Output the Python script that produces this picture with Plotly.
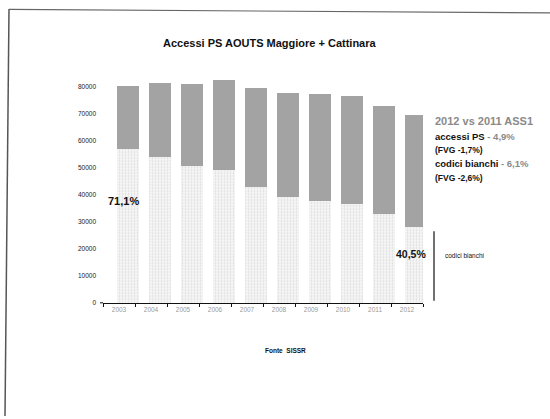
import plotly.graph_objects as go

# ---- data ----
years = ["2003", "2004", "2005", "2006", "2007", "2008", "2009", "2010", "2011", "2012"]
accessi_totali = [80000, 81200, 81000, 82300, 79400, 77700, 77100, 76300, 72800, 69400]
codici_bianchi = [57000, 53800, 50400, 49100, 42700, 39000, 37500, 36500, 32800, 28000]
altri_codici = [t - b for t, b in zip(accessi_totali, codici_bianchi)]
y_ticks = [0, 10000, 20000, 30000, 40000, 50000, 60000, 70000, 80000]

W, H = 550, 419
FONT = "Arial, Liberation Sans, sans-serif"


def px(x):
    return x / W


def py(y):
    return 1 - y / H


BAR_W = 0.69
BAR_OFF = -BAR_W / 2 + 0.28

fig = go.Figure()
fig.add_trace(go.Bar(
    x=years, y=codici_bianchi, name="codici bianchi",
    marker=dict(color="#f4f4f4", line=dict(width=0),
                pattern=dict(shape=".", fgcolor="#c4c4c4", bgcolor="#f7f7f7",
                             size=3, solidity=0.3)),
    width=BAR_W, offset=BAR_OFF,
))
fig.add_trace(go.Bar(
    x=years, y=altri_codici, name="altri codici",
    marker=dict(color="#a3a3a3", line=dict(width=0)),
    width=BAR_W, offset=BAR_OFF,
))

y0_px, y80_px = 305, 87
per_unit = (y0_px - y80_px) / 80000
ymax = 84000
top_px = y0_px - ymax * per_unit

fig.update_layout(
    width=W, height=H,
    margin=dict(l=0, r=0, t=0, b=0),
    paper_bgcolor="white", plot_bgcolor="white",
    barmode="stack", showlegend=False,
    font=dict(family=FONT, color="#111"),
    xaxis=dict(
        domain=[px(103), px(423)],
        type="category", range=[-0.5, 9.5],
        showgrid=False, zeroline=False,
        showline=True, linecolor="#111", linewidth=1.2,
        ticks="outside", tickson="boundaries", ticklen=3, tickcolor="#111",
        tickfont=dict(size=6.5, color="#9a9a9a", family=FONT),
    ),
    yaxis=dict(
        domain=[py(y0_px), py(top_px)],
        range=[0, ymax],
        tickvals=y_ticks, ticktext=[str(v) for v in y_ticks],
        showgrid=False, zeroline=False, showline=False,
        ticks="", ticklabelstandoff=6,
        tickfont=dict(size=6.5, color="#222", family=FONT),
    ),
)

ann = []


def add_text(x, y, text, size, color="#111", xanchor="left", bold=True):
    t = f"<b>{text}</b>" if bold else text
    ann.append(dict(x=px(x), y=py(y), xref="paper", yref="paper", text=t,
                    showarrow=False, xanchor=xanchor, yanchor="middle",
                    font=dict(size=size, color=color, family=FONT)))


add_text(270, 43, "Accessi PS AOUTS Maggiore + Cattinara", 11, xanchor="center")
add_text(106, 202, "71,1%", 11)
add_text(394, 256, "40,5%", 10.5)
add_text(443, 257, "codici bianchi", 6.5, bold=False)
add_text(433, 122, "2012 vs 2011 ASS1", 11, color="#8a8a8a")
add_text(433, 137, "accessi PS<span style='color:#8a8a8a'> - 4,9%</span>", 9.5)
add_text(433, 151, "(FVG -1,7%)", 8.5)
add_text(433, 165, "codici bianchi<span style='color:#8a8a8a'> - 6,1%</span>", 9.5)
add_text(433, 179, "(FVG -2,6%)", 8.5)
add_text(285, 353, "Fonte  SISSR", 6.5, xanchor="center")

fig.update_layout(annotations=ann)

shapes = [
    dict(type="line", xref="paper", yref="paper", x0=px(9), y0=py(9), x1=px(5), y1=py(419),
         line=dict(color="#555", width=1.5)),
    dict(type="line", xref="paper", yref="paper", x0=px(9), y0=py(9.5), x1=px(550), y1=py(13),
         line=dict(color="#666", width=1.2)),
    dict(type="line", xref="paper", yref="paper", x0=px(434), y0=py(233), x1=px(434), y1=py(303),
         line=dict(color="#111", width=1.2)),
    dict(type="line", xref="paper", yref="paper", x0=px(100), y0=py(305), x1=px(103), y1=py(305),
         line=dict(color="#111", width=1)),
]
fig.update_layout(shapes=shapes)

fig.write_html("out.html")
